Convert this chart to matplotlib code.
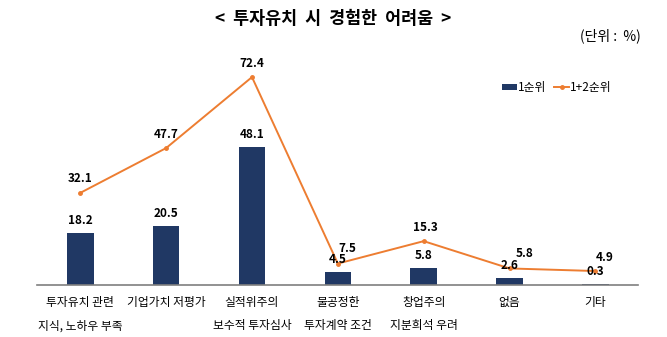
import numpy as np
import matplotlib.pyplot as plt

plt.rcParams['font.family'] = ['Noto Sans CJK KR', 'DejaVu Sans']

# data
categories = ['투자유치 관련\n지식, 노하우 부족', '기업가치 저평가', '실적위주의\n보수적 투자심사',
              '불공정한\n투자계약 조건', '창업주의\n지분희석 우려', '없음', '기타']
rank1 = [18.2, 20.5, 48.1, 4.5, 5.8, 2.6, 0.3]
rank12 = [32.1, 47.7, 72.4, 7.5, 15.3, 5.8, 4.9]

# label offsets (points) for the line values
line_offsets = [(0, 10), (0, 10), (0, 10), (7, 11), (1, 10), (11, 11), (7, 10)]

bar_color = '#203864'
line_color = '#ED7D31'

fig = plt.figure(figsize=(6.67, 3.37), dpi=100)
ax = fig.add_axes([0.056, 0.154, 0.901, 0.682])

x = np.arange(len(categories))
bars = ax.bar(x, rank1, width=0.31, color=bar_color, label='1순위', zorder=2)
line, = ax.plot(x, rank12, color=line_color, lw=1.4, marker='o', markersize=2.5,
                label='1+2순위', zorder=3)

for xi, v in zip(x, rank1):
    ax.annotate('%.1f' % v, (xi, v), xytext=(0, 9), textcoords='offset points',
                ha='center', va='center', fontsize=8.5, fontweight='bold', zorder=4)
for xi, v, off in zip(x, rank12, line_offsets):
    ax.annotate('%.1f' % v, (xi, v), xytext=off, textcoords='offset points',
                ha='center', va='center', fontsize=8.5, fontweight='bold', zorder=4)

ax.set_xlim(-0.5, len(categories) - 0.5)
ax.set_ylim(0, 80)
ax.set_yticks([])
ax.set_xticks(x)
ax.set_xticklabels(categories, fontsize=8.5, linespacing=2.0, va='top')
ax.tick_params(axis='x', length=0, pad=8)
for s in ['top', 'right', 'left']:
    ax.spines[s].set_visible(False)
ax.spines['bottom'].set_color('#7f7f7f')
ax.spines['bottom'].set_linewidth(1.2)

fig.text(0.5, 0.945, '<  투자유치  시  경험한  어려움  >', ha='center', va='center',
         fontsize=12.5, fontweight='bold')
fig.text(0.96, 0.895, '(단위 :  %)', ha='right', va='center', fontsize=10)

ax.legend(handles=[bars, line], loc='center', bbox_to_anchor=(0.835, 0.74),
          bbox_transform=fig.transFigure, ncol=2, frameon=False, fontsize=8.5,
          handlelength=1.3, handleheight=0.5, handletextpad=0.1, columnspacing=0.6)

fig.savefig('out.png', dpi=100)
